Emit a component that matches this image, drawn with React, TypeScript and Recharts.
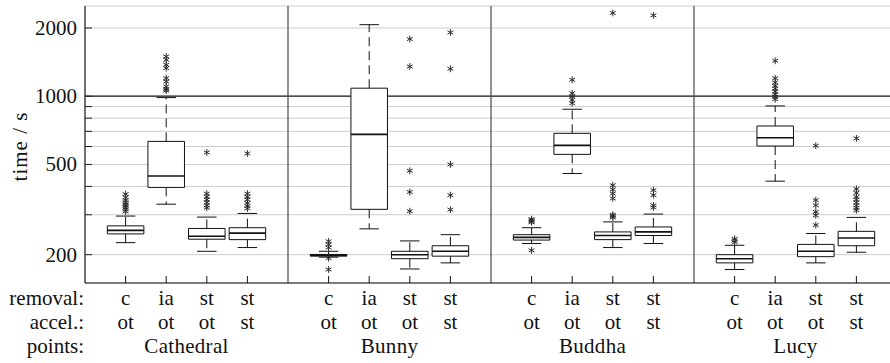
import React from 'react';
import { ComposedChart, XAxis, YAxis, CartesianGrid, ReferenceLine, ReferenceArea, Scatter } from 'recharts';

const points = ['Cathedral', 'Bunny', 'Buddha', 'Lucy'];
const removal = ['c', 'ia', 'st', 'st'];
const accel = ['ot', 'ot', 'ot', 'st'];
const rowLabels = ['removal:', 'accel.:', 'points:'];
const yTicks = [200, 300, 400, 500, 600, 700, 800, 900, 1000, 2000];
const yLabels = [200, 500, 1000, 2000];
const strongGrid = 1000;

// one entry per box, group by group (Cathedral, Bunny, Buddha, Lucy)
const whiskerLow = [226, 334, 207, 215, 195, 260, 173, 184, 224, 456, 215, 224, 172, 422, 184, 205];
const q1 = [247, 396, 234, 233, 197, 317, 192, 197, 232, 554, 233, 243, 184, 603, 196, 219];
const median = [256, 445, 241, 249, 199, 679, 200, 207, 238.5, 607, 243, 252, 192, 656, 207, 237];
const q3 = [268, 632, 261, 263, 200.5, 1085, 207, 219, 245, 686, 252, 265, 200, 739, 222, 253.5];
const whiskerHigh = [296, 986, 293, 304, 207, 2068, 230, 245, 263, 876, 279, 302, 220, 906, 248, 292];
const outliers = [
  [310, 316, 322, 328, 334, 340, 348, 358, 370],
  [1059, 1074, 1103, 1160, 1201, 1330, 1376, 1447, 1497],
  [322, 330, 340, 350, 360, 372, 565],
  [320, 328, 338, 350, 360, 372, 559],
  [172, 193, 215, 222, 229],
  [],
  [311, 378, 469, 1352, 1787],
  [316, 366, 500, 1321, 1911],
  [209, 278, 281, 284, 287],
  [931, 963, 996, 1031, 1181],
  [292, 296, 300, 354, 372, 388, 405, 2329],
  [323, 330, 366, 385, 2273],
  [227, 231, 235],
  [970, 995, 1020, 1050, 1080, 1110, 1150, 1200, 1433],
  [270, 298, 309, 330, 348, 605],
  [314, 322, 330, 340, 350, 360, 375, 390, 652],
];

const PER_GROUP = removal.length;
const GROUP_SPAN = PER_GROUP + 1;
const posOf = (i: number) => Math.floor(i / PER_GROUP) * GROUP_SPAN + (i % PER_GROUP) + 1;
const boxTicks = median.map((_, i) => posOf(i));
const groupCenters = points.map((_, g) => g * GROUP_SPAN + GROUP_SPAN / 2);
const separators = points.slice(1).map((_, g) => (g + 1) * GROUP_SPAN);
const X_MAX = points.length * GROUP_SPAN;
const bottomTicks = [0, ...boxTicks, ...groupCenters].sort((a, b) => a - b);

const outlierPts = outliers.flatMap((vals, i) => vals.map((v) => ({ x: posOf(i), y: v })));

const FONT = "'Liberation Serif'";
const TXT = '#111';
const TS: React.CSSProperties = { fontFamily: FONT, fontSize: 21 };
const BOX_HALF = 0.45;
const CAP_HALF = 0.24;

const Asterisk = (props: any) => {
  const { cx, cy } = props;
  if (cx == null || cy == null) return null;
  const r = 3.4;
  const dx = r * Math.cos(Math.PI / 6);
  const dy = r * Math.sin(Math.PI / 6);
  return (
    <g stroke="#2a2a2a" strokeWidth={1}>
      <line x1={cx} y1={cy - r} x2={cx} y2={cy + r} />
      <line x1={cx - dx} y1={cy - dy} x2={cx + dx} y2={cy + dy} />
      <line x1={cx - dx} y1={cy + dy} x2={cx + dx} y2={cy - dy} />
    </g>
  );
};

const BottomTick = (props: any) => {
  const { x, y, payload } = props;
  const v = payload.value;
  if (v === 0) {
    return (
      <g>
        {rowLabels.map((t, k) => (
          <text key={k} x={x - 1} y={y + [22, 45.5, 69.5][k]} textAnchor="end" fill={TXT} style={TS}>{t}</text>
        ))}
      </g>
    );
  }
  const gi = groupCenters.indexOf(v);
  if (gi >= 0) {
    return (
      <text x={x} y={y + 69.5} textAnchor="middle" fill={TXT} style={{ ...TS, letterSpacing: 0.3 }}>{points[gi]}</text>
    );
  }
  const bi = boxTicks.indexOf(v) % PER_GROUP;
  return (
    <g>
      <line x1={x} y1={y} x2={x} y2={y - 7} stroke="#111" strokeWidth={1} />
      <text x={x} y={y + 22} textAnchor="middle" fill={TXT} style={TS}>{removal[bi]}</text>
      <text x={x} y={y + 45.5} textAnchor="middle" fill={TXT} style={TS}>{accel[bi]}</text>
    </g>
  );
};

const TopTick = (props: any) => {
  const { x, y } = props;
  return <line x1={x} y1={y} x2={x} y2={y + 7} stroke="#111" strokeWidth={1} />;
};

const LeftTick = (props: any) => {
  const { x, y, payload } = props;
  const v = payload.value;
  return (
    <g>
      <line x1={x} y1={y} x2={x + 7} y2={y} stroke="#222" strokeWidth={1} />
      {yLabels.includes(v) && (
        <text x={x - 8} y={y + 7} textAnchor="end" fill={TXT} style={TS}>{v}</text>
      )}
    </g>
  );
};

const YLabel = (props: any) => {
  const vb = props.viewBox || {};
  const cx = 26.5;
  const cy = (vb.y ?? 6) + (vb.height ?? 277) / 2 + 2;
  return (
    <text x={cx} y={cy} transform={`rotate(-90 ${cx} ${cy})`} textAnchor="middle" fill={TXT} style={{ ...TS, letterSpacing: 1 }}>
      time / s
    </text>
  );
};

const GridLine = (props: any) => {
  const { x1, x2, y1, y2, index } = props;
  const strong = yTicks[index] === strongGrid;
  return (
    <line x1={x1} x2={x2} y1={y1} y2={y2} stroke={strong ? '#111' : '#cdcdcd'} strokeWidth={strong ? 1.2 : 1} />
  );
};

export default function App() {
  const boxEls: any[] = [];
  median.forEach((m, i) => {
    const p = posOf(i);
    boxEls.push(
      <ReferenceLine key={`wh${i}`} segment={[{ x: p, y: q3[i] }, { x: p, y: whiskerHigh[i] }]} stroke="#111" strokeWidth={1} strokeDasharray="9 5" />,
      <ReferenceLine key={`wl${i}`} segment={[{ x: p, y: q1[i] }, { x: p, y: whiskerLow[i] }]} stroke="#111" strokeWidth={1} strokeDasharray="9 5" />,
      <ReferenceLine key={`ch${i}`} segment={[{ x: p - CAP_HALF, y: whiskerHigh[i] }, { x: p + CAP_HALF, y: whiskerHigh[i] }]} stroke="#111" strokeWidth={1} />,
      <ReferenceLine key={`cl${i}`} segment={[{ x: p - CAP_HALF, y: whiskerLow[i] }, { x: p + CAP_HALF, y: whiskerLow[i] }]} stroke="#111" strokeWidth={1} />,
      <ReferenceArea key={`bx${i}`} x1={p - BOX_HALF} x2={p + BOX_HALF} y1={q1[i]} y2={q3[i]} fill="#fff" fillOpacity={1} stroke="#111" strokeWidth={1} />,
      <ReferenceLine key={`md${i}`} segment={[{ x: p - BOX_HALF, y: m }, { x: p + BOX_HALF, y: m }]} stroke="#111" strokeWidth={1.6} />,
    );
  });

  return (
    <div style={{ position: 'absolute', left: 0, top: 0, width: 890, height: 363, overflow: 'hidden', background: '#fff' }}>
      <ComposedChart width={910} height={363} margin={{ top: 6, right: 13, bottom: 0, left: 0 }} style={{ fontFamily: FONT }}>
        <CartesianGrid horizontal={<GridLine />} vertical={false} stroke="#cdcdcd" strokeWidth={1} />
        <XAxis
          xAxisId={0}
          type="number"
          dataKey="x"
          domain={[0, X_MAX]}
          allowDataOverflow
          ticks={bottomTicks}
          interval={0}
          tickSize={0}
          tickMargin={0}
          tickLine={false}
          axisLine={{ stroke: '#111', strokeWidth: 1.2 }}
          height={80}
          tick={<BottomTick />}
        />
        <XAxis
          xAxisId="top"
          orientation="top"
          type="number"
          domain={[0, X_MAX]}
          allowDataOverflow
          ticks={boxTicks}
          interval={0}
          tickSize={0}
          tickMargin={0}
          tickLine={false}
          axisLine={{ stroke: '#111', strokeWidth: 1.2 }}
          height={0}
          tick={<TopTick />}
        />
        <YAxis
          type="number"
          scale="log"
          domain={[150, 2500]}
          allowDataOverflow
          ticks={yTicks}
          interval={0}
          tickSize={0}
          tickMargin={0}
          tickLine={false}
          axisLine={{ stroke: '#111', strokeWidth: 1.2 }}
          width={85}
          tick={<LeftTick />}
          label={<YLabel />}
        />
        {separators.map((s) => (
          <ReferenceLine key={`sep${s}`} x={s} stroke="#555" strokeWidth={1.3} />
        ))}
        {boxEls}
        <Scatter data={outlierPts} dataKey="y" isAnimationActive={false} shape={<Asterisk />} />
      </ComposedChart>
    </div>
  );
}
